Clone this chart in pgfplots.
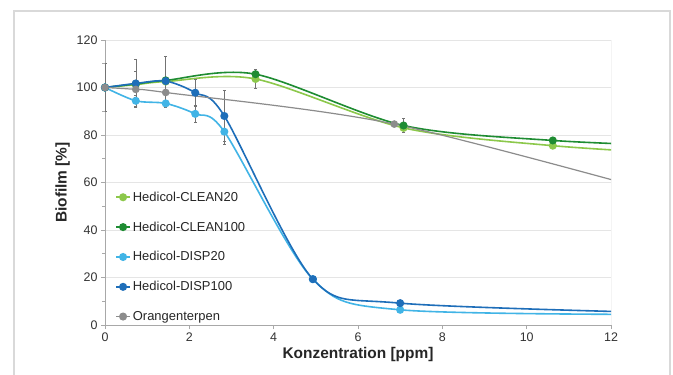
\documentclass[border=0pt]{standalone}
\usepackage{pgfplots}
\pgfplotsset{compat=1.18}
\usepackage{fontspec}
\setmainfont{Liberation Sans}
\definecolor{cleanA}{HTML}{8CC84B}
\definecolor{cleanB}{HTML}{1E8C32}
\definecolor{dispA}{HTML}{41B4E6}
\definecolor{dispB}{HTML}{1E6EB9}
\definecolor{oterp}{HTML}{8C8C8C}
\definecolor{axgray}{HTML}{A8A8A8}
\begin{document}
\begin{tikzpicture}[x=1bp,y=1bp]
\useasboundingbox (0,0) rectangle (673,374);
\fill[white] (0,0) rectangle (673,374);
\draw[black!15, line width=1.6bp] (14,-10) rectangle (670,363);
\begin{axis}[
  at={(105bp,49bp)}, anchor=south west,
  scale only axis, width=506bp, height=285bp,
  xmin=0, xmax=12, ymin=0, ymax=120,
  xtick={0,2,...,12}, ytick={0,20,...,120},
  minor y tick num=1,
  axis lines*=left,
  axis line style={axgray, line width=0.8bp},
  every tick/.style={axgray, line width=0.6bp},
  tick align=outside, major tick length=4bp, minor tick length=3bp,
  ymajorgrids, grid style={black!10, line width=0.6bp},
  /pgf/number format/assume math mode=true,
  ticklabel style={font=\fontsize{12.5}{12.5}\selectfont, text=black!80},
  xlabel={\textbf{Konzentration [ppm]}},
  ylabel={\textbf{Biofilm [\%]}},
  xlabel style={yshift=1bp},
  label style={font=\fontsize{15.5}{15.5}\selectfont, text=black!85},
  every axis plot/.append style={line width=1.6bp, smooth, mark=*, mark size=3.2bp},
  error bars/error bar style={black!55, line width=0.5bp},
  error bars/error mark options={rotate=90, mark size=1.5bp, black!55, line width=0.5bp},
  legend cell align=left,
  legend style={at={(0.014,0.482)}, anchor=north west, draw=none, fill=none,
    font=\fontsize{13}{13}\selectfont, row sep=15bp, text=black!85,
    nodes={inner xsep=2bp}},
  legend image code/.code={\draw[mark repeat=2, mark phase=2, line width=1.6bp] plot coordinates {(0bp,0bp) (7bp,0bp) (14bp,0bp)};},
]
\draw[axgray, line width=0.8bp] (rel axis cs:1,0) -- (rel axis cs:1,1);
\addplot[color=cleanA, mark options={fill=cleanA}, error bars/.cd, y dir=both, y explicit] coordinates {
  (0,100) (0.73,101.2) (1.44,102.5) (3.57,103.6) +- (0,4) (7.08,83) (10.62,75.5) (14.2,71.5)};
\addlegendentry{Hedicol-CLEAN20}
\addplot[color=cleanB, mark options={fill=cleanB}, error bars/.cd, y dir=both, y explicit] coordinates {
  (0,100) (0.73,101.5) +- (0,5.5) (1.44,103) (3.57,105.6) +- (0,2) (7.08,84) +- (0,3) (10.62,77.7) +- (0,1.5) (14.2,75)};
\addlegendentry{Hedicol-CLEAN100}
\addplot[color=dispA, mark options={fill=dispA}, error bars/.cd, y dir=both, y explicit] coordinates {
  (0,100) (0.73,94.4) +- (0,2.5) (1.44,93.3) +- (0,1.5) (2.14,88.9) +- (0,3.5) (2.83,81.4) +- (0,5.5) (4.93,19.3) (7.0,6.4) (14,4.4)};
\addlegendentry{Hedicol-DISP20}
\addplot[color=dispB, mark options={fill=dispB}, error bars/.cd, y dir=both, y explicit] coordinates {
  (0,100) (0.73,101.7) +- (0,10) (1.44,102.7) +- (0,10.6) (2.14,97.8) +- (0,5.5) (2.83,88) +- (0,10.8) (4.93,19.3) (7.0,9.2) (14,4.8)};
\addlegendentry{Hedicol-DISP100}
\addplot[color=oterp, mark options={fill=oterp}, line width=1.2bp, error bars/.cd, y dir=both, y explicit] coordinates {
  (0,100) +- (0,10) (0.73,99.2) (1.44,97.9) (6.86,84.6) (14,51.5)};
\addlegendentry{Orangenterpen}
\end{axis}
\end{tikzpicture}
\end{document}
